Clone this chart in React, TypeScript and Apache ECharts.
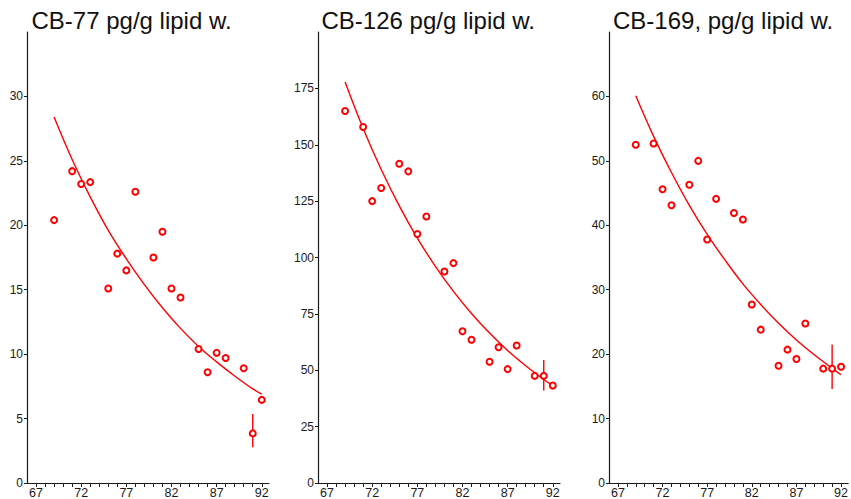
import React, { useEffect, useRef } from "react";
import * as echarts from "echarts";

const years = [69, 71, 72, 73, 75, 76, 77, 78, 80, 81, 82, 83, 85, 86, 87, 88, 90, 91, 92];
const cb77 = [20.4, 24.2, 23.2, 23.35, 15.1, 17.8, 16.5, 22.6, 17.5, 19.5, 15.1, 14.4, 10.4, 8.6, 10.1, 9.7, 8.9, 3.85, 6.45];
const cb126 = [165, 157.9, 125, 130.8, 141.6, 138.2, 110.4, 118.2, 93.8, 97.5, 67.3, 63.5, 53.8, 60.2, 50.5, 61, 47.5, 47.5, 43.2];
const cb169 = [52.5, 52.7, 45.6, 43.1, 46.3, 50.0, 37.8, 44.1, 41.9, 40.9, 27.7, 23.8, 18.2, 20.7, 19.25, 24.75, 17.75, 17.75, 18.05];

const fitYears = [69, 71, 73, 75, 77, 79, 81, 83, 85, 87, 89, 91, 92];
const fit77 = [28.4, 25.1, 22.2, 19.6, 17.4, 15.4, 13.6, 12.0, 10.6, 9.4, 8.3, 7.3, 6.9];
const fit126 = [177.8, 157.2, 139.0, 122.9, 108.6, 96.1, 85.0, 75.2, 66.5, 58.8, 52.0, 45.9, 43.2];
const fit169 = [60.1, 53.8, 48.2, 43.1, 38.6, 34.6, 30.9, 27.7, 24.8, 22.2, 19.9, 17.8, 16.8];

const errYear = 91;
const err77 = [2.77, 5.35];
const err126 = [41, 54.6];
const err169 = [14.6, 21.5];

const titles = ["CB-77 pg/g lipid w.", "CB-126 pg/g lipid w.", "CB-169, pg/g lipid w."];
const xTickYears = [67, 68, 69, 70, 71, 72, 73, 74, 75, 76, 77, 78, 79, 80, 81, 82, 83, 84, 85, 86, 87, 88, 89, 90, 91, 92];
const xLabelYears = [67, 72, 77, 82, 87, 92];
const yTicks77 = [0, 5, 10, 15, 20, 25, 30];
const yTicks126 = [0, 25, 50, 75, 100, 125, 150, 175];
const yTicks169 = [0, 10, 20, 30, 40, 50, 60];
const yMax = [35, 200, 70];

const panels = [
  { values: cb77, fit: fit77, err: err77, yTicks: yTicks77 },
  { values: cb126, fit: fit126, err: err126, yTicks: yTicks126 },
  { values: cb169, fit: fit169, err: err169, yTicks: yTicks169 },
];

const gridLefts = [27, 318, 609];
const titleLefts = [31.5, 321.5, 613];
const RED = "#ff0000";
const FONT = "Liberation Sans, Arial, Helvetica, sans-serif";

export default function App() {
  const ref = useRef<HTMLDivElement>(null);
  useEffect(() => {
    if (!ref.current) return;
    const chart = echarts.init(ref.current, null, { renderer: "svg" });
    const grid = gridLefts.map((l) => ({ left: l, top: 32, width: 242, height: 451, containLabel: false }));
    const xAxis = panels.map((_, i) => ({
      type: "value",
      gridIndex: i,
      min: 66,
      max: 92.8,
      splitLine: { show: false },
      axisLine: { show: true, onZero: false, lineStyle: { color: "#1a1a1a", width: 1.2 } },
      axisTick: { show: true, length: 4, inside: false, customValues: xTickYears, lineStyle: { color: "#1a1a1a", width: 1 } },
      axisLabel: { customValues: xLabelYears, margin: 3, fontSize: 12.5, color: "#1a1a1a", fontFamily: FONT },
    }));
    const yAxis = panels.map((p, i) => ({
      type: "value",
      gridIndex: i,
      min: 0,
      max: yMax[i],
      splitLine: { show: false },
      axisLine: { show: true, onZero: false, lineStyle: { color: "#1a1a1a", width: 1.2 } },
      axisTick: { show: true, length: 3, inside: false, customValues: p.yTicks, lineStyle: { color: "#1a1a1a", width: 1 } },
      axisLabel: { customValues: p.yTicks, margin: 4, fontSize: 12, color: "#1a1a1a", fontFamily: FONT },
    }));
    const series: any[] = [];
    panels.forEach((p, i) => {
      series.push({
        type: "line",
        xAxisIndex: i,
        yAxisIndex: i,
        data: fitYears.map((y, k) => [y, p.fit[k]]),
        smooth: 0.4,
        showSymbol: false,
        symbol: "none",
        lineStyle: { color: RED, width: 1.4 },
        z: 2,
      });
      series.push({
        type: "line",
        xAxisIndex: i,
        yAxisIndex: i,
        data: [[errYear, p.err[0]], [errYear, p.err[1]]],
        showSymbol: false,
        symbol: "none",
        lineStyle: { color: RED, width: 1.4 },
        z: 2,
      });
      series.push({
        type: "scatter",
        xAxisIndex: i,
        yAxisIndex: i,
        data: years.map((y, k) => [y, p.values[k]]),
        symbol: "emptyCircle",
        symbolSize: 6,
        itemStyle: { color: RED, borderColor: RED, borderWidth: 1.8, opacity: 1 },
        z: 3,
      });
    });
    const graphic = titles.map((t, i) => ({
      type: "text",
      x: titleLefts[i],
      y: 20.7,
      style: { text: t, fontSize: 24, fontFamily: FONT, fill: "#111", verticalAlign: "middle", align: "left" },
    }));
    chart.setOption({
      animation: false,
      backgroundColor: "#ffffff",
      grid,
      xAxis,
      yAxis,
      series,
      graphic,
    });
    return () => chart.dispose();
  }, []);
  return <div ref={ref} style={{ position: "fixed", left: 0, top: 0, width: 851, height: 499 }} />;
}
